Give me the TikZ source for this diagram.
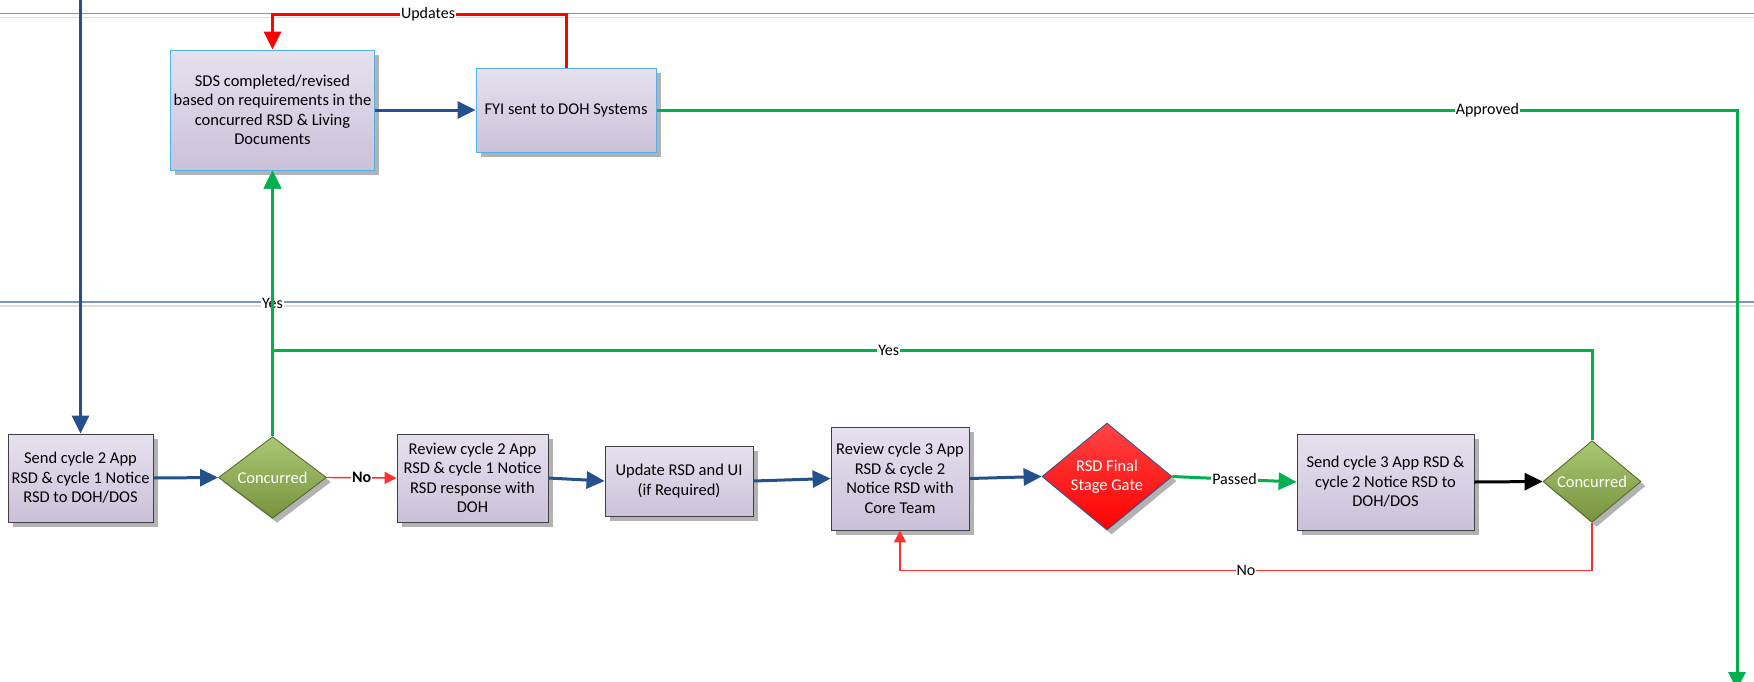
\documentclass[tikz,border=0pt]{standalone}
\usepackage{fontspec}
\setmainfont{Carlito}
\usetikzlibrary{shapes.geometric,arrows.meta,shadows,calc}
\definecolor{lnblue}{HTML}{24508C}
\definecolor{lngreen}{HTML}{00B050}
\definecolor{lnred}{HTML}{FF0000}
\definecolor{lnredlight}{HTML}{FF3030}
\definecolor{lavtop}{HTML}{E6E1EE}
\definecolor{lavbot}{HTML}{CBC1DA}
\definecolor{boxedge}{HTML}{404040}
\definecolor{skyedge}{HTML}{4FB3E8}
\definecolor{dectop}{HTML}{AAC774}
\definecolor{decbot}{HTML}{76933C}
\definecolor{decedge}{HTML}{4F6228}
\definecolor{gatetop}{HTML}{FF4545}
\definecolor{gatebot}{HTML}{FF0000}
\definecolor{gateedge}{HTML}{2F4F8F}
\definecolor{lane}{HTML}{7F96B8}
\definecolor{lanegray}{HTML}{DDDDDD}
\newcommand{\boxfont}{\fontsize{16.5}{19.5}\selectfont}
\newcommand{\lblfont}{\fontsize{16}{18}\selectfont}
\begin{document}
\begin{tikzpicture}[x=1pt,y=-1pt,
  shad/.style={drop shadow={shadow xshift=4.5pt,shadow yshift=-4.5pt,fill=black!55,opacity=0.55}},
  proc/.style={rectangle,draw=boxedge,line width=0.8pt,top color=lavtop,bottom color=lavbot,
    align=center,inner sep=2pt,font=\boxfont,shad},
  sproc/.style={proc,draw=skyedge,line width=1pt},
  dec/.style={diamond,draw=decedge,line width=0.8pt,top color=dectop,bottom color=decbot,
    text=white,align=center,inner sep=0pt,font=\boxfont,shad},
  gate/.style={dec,draw=gateedge,top color=gatetop,bottom color=gatebot},
  lbl/.style={fill=white,inner sep=1pt,font=\lblfont,text=black},
  bigtip/.style={-{Triangle[length=18pt,width=17pt]}},
  smalltip/.style={-{Triangle[length=12pt,width=12pt]}},
  bluec/.style={draw=lnblue,line width=3pt,bigtip},
  greenc/.style={draw=lngreen,line width=3pt,bigtip},
  blackc/.style={draw=black,line width=3pt,bigtip},
  redthick/.style={draw=lnred,line width=3pt,bigtip},
  redthin/.style={draw=lnredlight,line width=1.4pt,smalltip}
]
\clip (0,0) rectangle (1754,681);
\fill[white] (0,0) rectangle (1754,681);

% lane separators
\draw[lanegray,line width=1.2pt] (0,17.5) -- (1754,17.5);
\draw[lane,line width=1.5pt] (0,13.5) -- (1754,13.5);
\draw[lanegray,line width=1.2pt] (0,306) -- (1754,306);
\draw[lane,line width=1.5pt] (0,302) -- (1754,302);

% nodes
\node[sproc,minimum width=204pt,minimum height=120pt] (sds) at (272.5,110)
  {SDS completed/revised\\based on requirements in the\\concurred RSD \& Living\\Documents};
\node[sproc,minimum width=180pt,minimum height=84pt] (fyi) at (566,110) {FYI sent to DOH Systems};

\node[proc,minimum width=145pt,minimum height=88pt] (b1) at (80.5,478)
  {Send cycle 2 App\\RSD \& cycle 1 Notice\\RSD to DOH/DOS};
\node[dec,minimum width=108pt,minimum height=81pt] (d1) at (272.5,477.5) {Concurred};
\node[proc,minimum width=151pt,minimum height=88pt] (b2) at (472.5,478)
  {Review cycle 2 App\\RSD \& cycle 1 Notice\\RSD response with\\DOH};
\node[proc,minimum width=148pt,minimum height=70pt] (b3) at (679,481)
  {Update RSD and UI\\(if Required)};
\node[proc,minimum width=138pt,minimum height=103pt] (b4) at (900,478.5)
  {Review cycle 3 App\\RSD \& cycle 2\\Notice RSD with\\Core Team};
\node[gate,minimum width=130pt,minimum height=107pt] (d2) at (1107,476.5) {RSD Final\\Stage Gate};
\node[proc,minimum width=177pt,minimum height=96pt] (b5) at (1385.5,482)
  {Send cycle 3 App RSD \&\\cycle 2 Notice RSD to\\DOH/DOS};
\node[dec,minimum width=98pt,minimum height=73pt] (d3) at (1592,481.5) {Concurred};

% helper coordinates
\coordinate (topin) at (80.5,0);
\coordinate (toprow) at (0,14.5);
\coordinate (yesrow) at (0,350);
\coordinate (rightx) at (1737,0);
\coordinate (bottomend) at (1737,690);

% connectors
\draw[bluec] (topin) -- (topin |- b1.north);
\draw[bluec] (b1.east) -- (d1.west);
\draw[redthin] (d1.east) -- node[lbl,font=\lblfont\bfseries]{No} (b2.west);
\draw[bluec] (b2.east) -- (b3.west);
\draw[bluec] (b3.east) -- (b4.west);
\draw[bluec] (b4.east) -- (d2.west);
\draw[greenc] (d2.east) -- node[lbl]{Passed} (b5.west);
\draw[blackc] (b5.east) -- (d3.west);
\draw[redthin] (d3.south) -- ++(0,48) -| node[lbl,pos=0.25]{No} (b4.south);

\draw[greenc] (d1.north) -- node[lbl]{Yes} (sds.south);
\draw[greenc] (d3.north) -- (d3.north |- yesrow) -- node[lbl,pos=0.533]{Yes} (sds.south |- yesrow) -- (sds.south);

\draw[bluec] (sds.east) -- (fyi.west);
\draw[greenc] (fyi.east) -- node[lbl,pos=0.769]{Approved} (fyi.east -| rightx) -- (bottomend);
\draw[redthick] (fyi.north) -- (fyi.north |- toprow) -- node[lbl,pos=0.47]{Updates} (sds.north |- toprow) -- (sds.north);
\end{tikzpicture}
\end{document}
